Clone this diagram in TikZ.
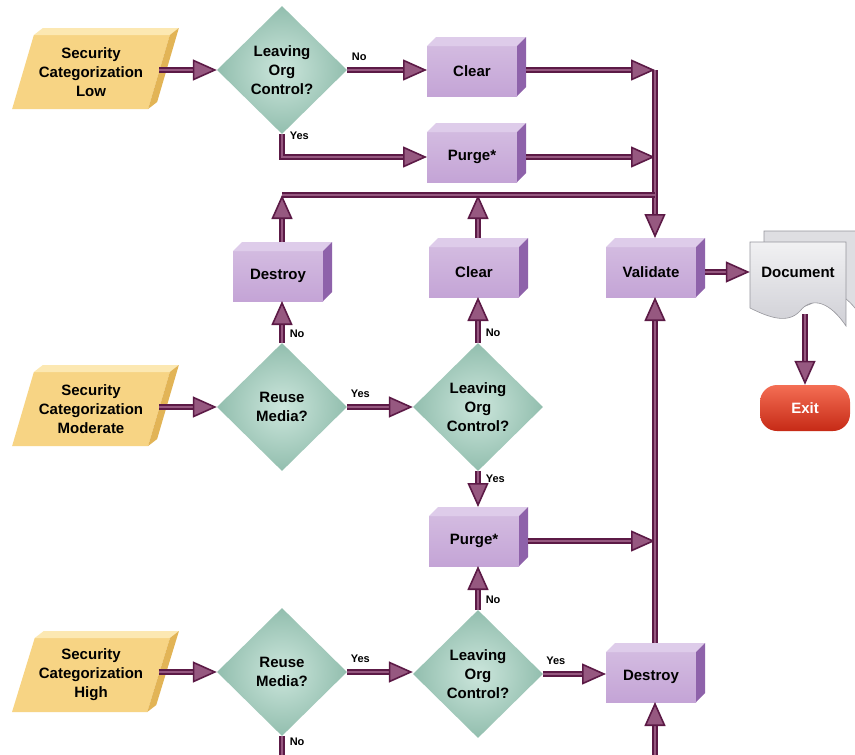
\documentclass[tikz,border=0pt]{standalone}
\usepackage{fontspec}
\setmainfont{Liberation Sans}
\usetikzlibrary{arrows.meta,shapes.geometric,calc}
\definecolor{ArrowClr}{RGB}{92,26,70}
\definecolor{ArrowMid}{RGB}{150,88,128}
\definecolor{BoxFront}{RGB}{196,164,214}
\definecolor{BoxTop}{RGB}{222,204,234}
\definecolor{BoxSide}{RGB}{142,98,170}
\definecolor{DiaLight}{RGB}{204,230,220}
\definecolor{DiaDark}{RGB}{146,190,174}
\definecolor{SecFront}{RGB}{247,212,132}
\definecolor{SecTop}{RGB}{252,232,178}
\definecolor{SecSide}{RGB}{226,180,86}
\definecolor{DocClr}{RGB}{208,208,214}
\definecolor{DocEdge}{RGB}{150,150,156}
\definecolor{ExitTop}{RGB}{244,110,84}
\definecolor{ExitBot}{RGB}{198,42,22}

\tikzset{
  txt/.style={font=\bfseries\fontsize{15}{19}\selectfont, align=center},
  secpar/.style={txt, trapezium, trapezium left angle=68, trapezium right angle=112,
    trapezium stretches=true, minimum width=158pt, minimum height=74pt,
    fill=SecFront, inner sep=0pt, outer sep=0pt},
  decide/.style={txt, diamond, minimum width=130pt, minimum height=128pt,
    inner color=DiaLight, outer color=DiaDark, inner sep=0pt},
  procbox/.style={txt, rectangle, minimum width=90pt, minimum height=50pt,
    top color=BoxFront!75!white, bottom color=BoxFront, inner sep=0pt, outer sep=0pt},
  docnode/.style={txt, rectangle, minimum width=96pt, minimum height=66pt, inner sep=0pt},
  exitbox/.style={txt, rectangle, rounded corners=17pt, minimum width=90pt,
    minimum height=46pt, top color=ExitTop, bottom color=ExitBot, text=white},
  lbl/.style={font=\bfseries\fontsize{11}{13}\selectfont, inner sep=1pt},
  flowline/.style={draw=ArrowClr, double=ArrowMid, double distance=2.4pt, line width=1.6pt},
  flow/.style={flowline, -{Triangle[length=24pt,width=21pt,fill=ArrowMid]}}
}

\begin{document}
\begin{tikzpicture}[x=1pt,y=-1pt]
\fill[white] (0,0) rectangle (855,755);
\useasboundingbox (0,0) rectangle (855,755);

% inputs and decisions
\node[secpar] (secLo) at (91,72) {Security\\Categorization\\Low};
\node[decide] (diaLo) at (282,70) {Leaving\\Org\\Control?};
\node[secpar] (secMo) at (91,409) {Security\\Categorization\\Moderate};
\node[decide] (reuseMo) at (282,407) {Reuse\\Media?};
\node[decide] (leaveMo) at (478,407) {Leaving\\Org\\Control?};
\node[secpar] (secHi) at (91,675) {Security\\Categorization\\High};
\node[decide] (reuseHi) at (282,672) {Reuse\\Media?};
\node[decide] (leaveHi) at (478,674) {Leaving\\Org\\Control?};

% actions
\node[procbox] (clearLo) at (472,71) {Clear};
\node[procbox] (purgeLo) at (472,157) {Purge*};
\node[procbox] (destroyMo) at (278,276) {Destroy};
\node[procbox] (clearMo) at (474,272) {Clear};
\node[procbox] (valid) at (651,272) {Validate};
\node[procbox] (purgeMo) at (474,541) {Purge*};
\node[procbox] (destroyHi) at (651,677) {Destroy};

% 3d faces
\foreach \n in {clearLo,purgeLo,destroyMo,clearMo,valid,purgeMo,destroyHi} {
  \fill[BoxTop] (\n.north west) -- ++(9pt,9pt) -- ([shift={(9pt,9pt)}]\n.north east) -- (\n.north east) -- cycle;
  \fill[BoxSide] (\n.north east) -- ++(9pt,9pt) -- ([shift={(9pt,9pt)}]\n.south east) -- (\n.south east) -- cycle;
}
\foreach \n in {secLo,secMo,secHi} {
  \fill[SecTop] (\n.top left corner) -- ++(9pt,7pt) -- ([shift={(9pt,7pt)}]\n.top right corner) -- (\n.top right corner) -- cycle;
  \fill[SecSide] (\n.top right corner) -- ++(9pt,7pt) -- ([shift={(9pt,7pt)}]\n.bottom right corner) -- (\n.bottom right corner) -- cycle;
}

% document pages
\fill[DocClr!70!white, draw=DocEdge, line width=0.6pt] (764,231) -- (862,231) -- (862,318)
  .. controls (846,292) and (828,286) .. (816,300) .. controls (804,312) and (786,306) .. (764,296) -- cycle;
\shade[top color=DocClr!30!white, bottom color=DocClr, draw=DocEdge, line width=0.6pt] (750,242) -- (846,242) -- (846,326)
  .. controls (830,302) and (812,296) .. (800,311) .. controls (788,324) and (770,318) .. (750,308) -- cycle;
\node[docnode] (doc) at (798,272) {Document};
\node[exitbox] (exit) at (805,408) {Exit};

% junction points
\coordinate (jA) at (655,70);
\coordinate (jP) at (655,157);
\coordinate (jRow) at (655,195);
\coordinate (jB) at (655,541);
\coordinate (jBot) at (655,755);
\coordinate (jNo) at (282,755);
\coordinate (vTop) at ([shift={(4pt,9pt)}]valid.north);
\coordinate (vBot) at ([xshift=4pt]valid.south);
\coordinate (dTop) at ([shift={(4pt,9pt)}]destroyMo.north);
\coordinate (cTop) at ([shift={(4pt,9pt)}]clearMo.north);

% low
\draw[flow] (diaLo.west -| secLo.east) -- (diaLo.west);
\draw[flow] (diaLo.east) -- node[lbl,above=8pt,pos=0.15]{No} (diaLo.east -| clearLo.west);
\draw[flow] (diaLo.south) -- node[lbl,right=6pt,pos=0.05]{Yes} (diaLo.south |- purgeLo.west) -- (purgeLo.west);
\draw[flow] ([xshift=9pt]clearLo.east |- jA) -- (jA);
\draw[flow] ([xshift=9pt]purgeLo.east) -- (jP);
\draw[flow] (jA) -- (vTop);

% moderate
\draw[flow] (reuseMo.west -| secMo.east) -- (reuseMo.west);
\draw[flow] (reuseMo.east) -- node[lbl,above=8pt,pos=0.2]{Yes} (leaveMo.west);
\draw[flow] (reuseMo.north) -- node[lbl,right=6pt,pos=0.22]{No} (reuseMo.north |- destroyMo.south);
\draw[flow] (leaveMo.north) -- node[lbl,right=6pt,pos=0.22]{No} (leaveMo.north |- clearMo.south);
\draw[flow] (dTop) -- (dTop |- jRow);
\draw[flow] (cTop) -- (cTop |- jRow);
\draw[flowline] (dTop |- jRow) -- (jRow);
\draw[flow] (leaveMo.south) -- node[lbl,right=6pt,pos=0.2]{Yes} ([shift={(4pt,9pt)}]purgeMo.north);
\draw[flow] ([xshift=9pt]purgeMo.east) -- (jB);

% high
\draw[flow] (reuseHi.west -| secHi.east) -- (reuseHi.west);
\draw[flow] (reuseHi.east) -- node[lbl,above=8pt,pos=0.2]{Yes} (reuseHi.east -| leaveHi.west);
\draw[flow] (leaveHi.north) -- node[lbl,right=6pt,pos=0.22]{No} (leaveHi.north |- purgeMo.south);
\draw[flow] (leaveHi.east) -- node[lbl,above=8pt,pos=0.2]{Yes} (leaveHi.east -| destroyHi.west);
\draw[flowline] (reuseHi.south) -- node[lbl,right=6pt,pos=0.3]{No} (jNo);
\draw[flow] (jBot) -- ([xshift=4pt]destroyHi.south);
\draw[flow] ([shift={(4pt,9pt)}]destroyHi.north) -- (vBot);

% output
\draw[flow] ([xshift=9pt]valid.east) -- (doc.west);
\draw[flow] (805,314) -- (exit.north);
\end{tikzpicture}
\end{document}
